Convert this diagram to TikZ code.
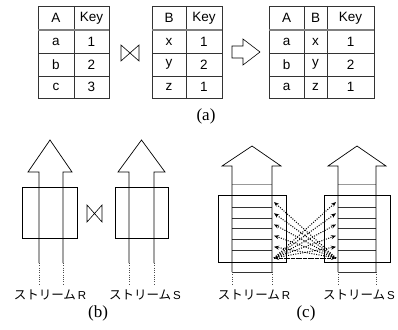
\documentclass[tikz,border=0pt]{standalone}
\usepackage{fontspec}
\setmainfont{Liberation Serif}
\newfontfamily\tblfont{Liberation Sans}
\newfontfamily\jpfont{Noto Sans CJK JP}
\usetikzlibrary{arrows.meta}

\tikzset{
  grid/.style={draw=black!80, line width=0.7pt},
  headrule/.style={draw=black!50, line width=2.4pt},
  cell/.style={font=\tblfont\fontsize{13.5}{14}\selectfont, inner sep=0pt},
  outline/.style={draw=black, line width=0.7pt, line join=miter},
  tail/.style={draw=black!70, line width=0.7pt, dash pattern=on 1pt off 1.3pt},
  slot/.style={draw=black!80, line width=0.6pt},
  pairing/.style={draw=black, line width=1pt, dash pattern=on 1pt off 1.4pt,
                  -{Stealth[length=5pt,width=4pt]}},
  caption/.style={font=\fontsize{17}{18}\selectfont, inner sep=0pt},
  stream/.style={font=\jpfont\fontsize{12.5}{13}\selectfont, inner sep=0pt},
}

\newcommand{\streamname}[1]{ストリーム{\tblfont\fontsize{11.5}{12}\selectfont\hspace{2pt}#1}}

\begin{document}
\begin{tikzpicture}[x=1pt,y=-1pt]
\useasboundingbox (0,0) rectangle (398,329);

% ---------- (a) relational join of two tables ----------
% table A / Key
\draw[grid] (38,6) rectangle (109,98);
\draw[grid] (74,6) -- (74,98);
\draw[grid] (38,53) -- (109,53) (38,76) -- (109,76);
\draw[headrule] (38,30) -- (109,30);
\node[cell] (r-h1) at (56,18) {A};
\node[cell] (r-h2) at (91.5,18) {Key};
\node[cell] (r-11) at (56,41.5) {a};
\node[cell] (r-12) at (91.5,41.5) {1};
\node[cell] (r-21) at (56,64.5) {b};
\node[cell] (r-22) at (91.5,64.5) {2};
\node[cell] (r-31) at (56,87) {c};
\node[cell] (r-32) at (91.5,87) {3};

% join symbol
\draw[outline, line width=0.6pt] (121,45) -- (121,61) -- (139,45) -- (139,61) -- cycle;

% table B / Key
\draw[grid] (152,6) rectangle (222,98);
\draw[grid] (186,6) -- (186,98);
\draw[grid] (152,53) -- (222,53) (152,76) -- (222,76);
\draw[headrule] (152,30) -- (222,30);
\node[cell] (s-h1) at (169,18) {B};
\node[cell] (s-h2) at (204,18) {Key};
\node[cell] (s-11) at (169,41.5) {x};
\node[cell] (s-12) at (204,41.5) {1};
\node[cell] (s-21) at (169,64.5) {y};
\node[cell] (s-22) at (204,64.5) {2};
\node[cell] (s-31) at (169,87) {z};
\node[cell] (s-32) at (204,87) {1};

% result arrow
\draw[outline, line width=0.6pt] (232,46) -- (243,46) -- (243,39) -- (260,52)
  -- (243,65) -- (243,58) -- (232,58) -- cycle;

% result table A / B / Key
\draw[grid] (269,6) rectangle (374,98);
\draw[grid] (304,6) -- (304,98) (327,6) -- (327,98);
\draw[grid] (269,53) -- (374,53) (269,76) -- (374,76);
\draw[headrule] (269,30) -- (374,30);
\node[cell] (o-h1) at (286.5,18) {A};
\node[cell] (o-h2) at (315.5,18) {B};
\node[cell] (o-h3) at (350.5,18) {Key};
\node[cell] (o-11) at (286.5,41.5) {a};
\node[cell] (o-12) at (315.5,41.5) {x};
\node[cell] (o-13) at (350.5,41.5) {1};
\node[cell] (o-21) at (286.5,64.5) {b};
\node[cell] (o-22) at (315.5,64.5) {y};
\node[cell] (o-23) at (350.5,64.5) {2};
\node[cell] (o-31) at (286.5,87) {a};
\node[cell] (o-32) at (315.5,87) {z};
\node[cell] (o-33) at (350.5,87) {1};

\node[caption] (cap-a) at (206,116) {(a)};

% ---------- (b) stream join with windows ----------
% stream R
\draw[outline] (22,187) rectangle (77,238);
\draw[outline] (39,263) -- (39,172) -- (28,172) -- (50,140) -- (72,172) -- (63,172) -- (63,263);
\draw[tail] (39,263) -- (39,284) (63,263) -- (63,284);
% stream S
\draw[outline] (115,187) rectangle (168,238);
\draw[outline] (129,263) -- (129,172) -- (118,172) -- (141.5,140) -- (165,172) -- (154,172) -- (154,263);
\draw[tail] (129,263) -- (129,284) (154,263) -- (154,284);
% join symbol
\draw[outline, line width=0.6pt] (87,205) -- (87,222) -- (102,205) -- (102,222) -- cycle;

\node[stream] (lbl-br) at (50,295) {\streamname{R}};
\node[stream] (lbl-bs) at (145,295) {\streamname{S}};
\node[caption] (cap-b) at (98,313) {(b)};

% ---------- (c) tuple-wise pairing between windows ----------
% stream R
\draw[outline] (218,195) rectangle (286,262);
\draw[slot, draw=black!40] (232,184) -- (272,184);
\foreach \yy in {207,218,228,239,250,272}
  \draw[slot] (232,\yy) -- (272,\yy);
\draw[outline] (232,272) -- (232,166) -- (222,166) -- (252,146) -- (281,166) -- (272,166) -- (272,272);
\draw[tail] (232,272) -- (232,284) (272,272) -- (272,284);
% stream S
\draw[outline] (324,195) rectangle (390,262);
\draw[slot, draw=black!40] (338,184) -- (376,184);
\foreach \yy in {207,218,228,239,250,272}
  \draw[slot] (338,\yy) -- (376,\yy);
\draw[outline] (338,272) -- (338,166) -- (328,166) -- (357,146) -- (386,166) -- (376,166) -- (376,272);
\draw[tail] (338,272) -- (338,284) (376,272) -- (376,284);

% pairing end points on each window
\foreach \i in {0,...,5} {
  \coordinate (cl\i) at (274,{202+11.2*\i});
  \coordinate (cr\i) at (336,{202+11.2*\i});
}
\foreach \i in {0,...,5} {
  \draw[pairing] (cr5) -- (cl\i);
  \draw[pairing] (cl5) -- (cr\i);
}

\node[stream] (lbl-cr) at (254,295) {\streamname{R}};
\node[stream] (lbl-cs) at (359,295) {\streamname{S}};
\node[caption] (cap-c) at (306,313) {(c)};
\end{tikzpicture}
\end{document}
